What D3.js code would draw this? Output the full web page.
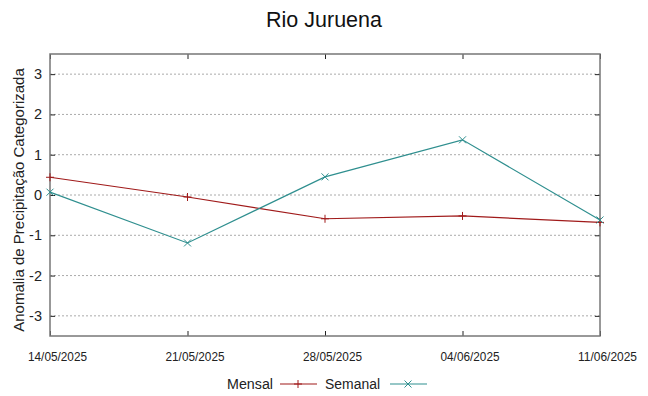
<!DOCTYPE html>
<html>
<head>
<meta charset="utf-8">
<script src="https://cdn.jsdelivr.net/npm/d3@7"></script>
<style>
  body { margin: 0; background: #fff; }
  svg { font-family: "Liberation Sans", Arial, sans-serif; }
</style>
</head>
<body>
<div class="chart"></div>
<script>
const dates = ['14/05/2025', '21/05/2025', '28/05/2025', '04/06/2025', '11/06/2025'];
const mensal = [0.44, -0.05, -0.59, -0.52, -0.68];
const semanal = [0.07, -1.19, 0.45, 1.37, -0.62];
const yTicks = [-3, -2, -1, 0, 1, 2, 3];

const width = 648, height = 396;
const padding = { left: 50, right: 48, top: 54, bottom: 60 };
const red = '#a01a1a', teal = '#2f8f8f';

const svg = d3.select('.chart')
  .append('svg')
  .attr('width', width)
  .attr('height', height);

// scales
const x = d3.scalePoint()
  .domain(dates)
  .range([padding.left, width - padding.right]);
const y = d3.scaleLinear()
  .domain([-3.5, 3.5])
  .range([height - padding.bottom, padding.top]);

// title
svg.append('text')
  .attr('x', 324).attr('y', 27)
  .attr('text-anchor', 'middle')
  .attr('font-size', 21.5)
  .attr('fill', '#111')
  .text('Rio Juruena');

// grid lines
svg.append('g')
  .selectAll('line')
  .data(yTicks)
  .join('line')
  .attr('x1', padding.left).attr('x2', width - padding.right)
  .attr('y1', d => y(d)).attr('y2', d => y(d))
  .attr('stroke', '#aaa')
  .attr('stroke-width', 1)
  .attr('stroke-dasharray', '2,2');

// axes (ticks inward, mirrored)
svg.append('g')
  .attr('transform', `translate(${padding.left},0)`)
  .call(d3.axisRight(y).tickValues(yTicks).tickSize(5).tickFormat(''))
  .call(g => g.select('.domain').remove())
  .call(g => g.selectAll('line').attr('stroke', '#222'));
svg.append('g')
  .attr('transform', `translate(${width - padding.right},0)`)
  .call(d3.axisLeft(y).tickValues(yTicks).tickSize(5).tickFormat(''))
  .call(g => g.select('.domain').remove())
  .call(g => g.selectAll('line').attr('stroke', '#222'));
svg.append('g')
  .attr('transform', `translate(0,${height - padding.bottom})`)
  .call(d3.axisTop(x).tickSize(5).tickFormat(''))
  .call(g => g.select('.domain').remove())
  .call(g => g.selectAll('line').attr('stroke', '#222'));
svg.append('g')
  .attr('transform', `translate(0,${padding.top})`)
  .call(d3.axisBottom(x).tickSize(5).tickFormat(''))
  .call(g => g.select('.domain').remove())
  .call(g => g.selectAll('line').attr('stroke', '#222'));

// y tick labels
svg.append('g')
  .selectAll('text')
  .data(yTicks)
  .join('text')
  .attr('x', padding.left - 8)
  .attr('y', d => y(d) + 5)
  .attr('text-anchor', 'end')
  .attr('font-size', 14.5)
  .attr('fill', '#222')
  .text(d => d);

// x tick labels (slightly shifted right, as in the original)
svg.append('g')
  .selectAll('text')
  .data(dates)
  .join('text')
  .attr('x', d => x(d) + 7.5)
  .attr('y', height - padding.bottom + 25)
  .attr('text-anchor', 'middle')
  .attr('font-size', 12.5)
  .attr('textLength', 59)
  .attr('lengthAdjust', 'spacingAndGlyphs')
  .attr('fill', '#222')
  .text(d => d);

// y label
svg.append('text')
  .attr('transform', `translate(24,200) rotate(-90)`)
  .attr('text-anchor', 'middle')
  .attr('font-size', 15)
  .attr('fill', '#222')
  .text('Anomalia de Precipitação Categorizada');

// frame
svg.append('rect')
  .attr('x', padding.left).attr('y', padding.top)
  .attr('width', width - padding.left - padding.right)
  .attr('height', height - padding.top - padding.bottom)
  .attr('fill', 'none')
  .attr('stroke', '#777')
  .attr('stroke-width', 1.5);

// lines
const line = d3.line()
  .x((d, i) => x(dates[i]))
  .y(d => y(d));

const plus = (g, cx, cy, c) => {
  g.append('path')
    .attr('d', `M${cx - 4},${cy}H${cx + 4}M${cx},${cy - 4}V${cy + 4}`)
    .attr('stroke', c).attr('stroke-width', 1);
};
const cross = (g, cx, cy, c) => {
  g.append('path')
    .attr('d', `M${cx - 3.5},${cy - 3.5}L${cx + 3.5},${cy + 3.5}M${cx - 3.5},${cy + 3.5}L${cx + 3.5},${cy - 3.5}`)
    .attr('stroke', c).attr('stroke-width', 1);
};

svg.append('path')
  .datum(mensal)
  .attr('d', line)
  .attr('fill', 'none')
  .attr('stroke', red)
  .attr('stroke-width', 1.2);
const gm = svg.append('g');
mensal.forEach((d, i) => plus(gm, x(dates[i]), y(d), red));

svg.append('path')
  .datum(semanal)
  .attr('d', line)
  .attr('fill', 'none')
  .attr('stroke', teal)
  .attr('stroke-width', 1.2);
const gs = svg.append('g');
semanal.forEach((d, i) => cross(gs, x(dates[i]), y(d), teal));

// legend
const legend = svg.append('g')
  .attr('font-size', 15.5)
  .attr('fill', '#222');
legend.append('text').attr('x', 227).attr('y', 389)
  .attr('textLength', 46).attr('lengthAdjust', 'spacingAndGlyphs').text('Mensal');
legend.append('line').attr('x1', 280).attr('x2', 317).attr('y1', 384).attr('y2', 384).attr('stroke', red).attr('stroke-width', 1.2);
plus(legend, 298, 384, red);
legend.append('text').attr('x', 325).attr('y', 389)
  .attr('textLength', 55).attr('lengthAdjust', 'spacingAndGlyphs').text('Semanal');
legend.append('line').attr('x1', 390).attr('x2', 427).attr('y1', 384).attr('y2', 384).attr('stroke', teal).attr('stroke-width', 1.2);
cross(legend, 408, 384, teal);
</script>
</body>
</html>
